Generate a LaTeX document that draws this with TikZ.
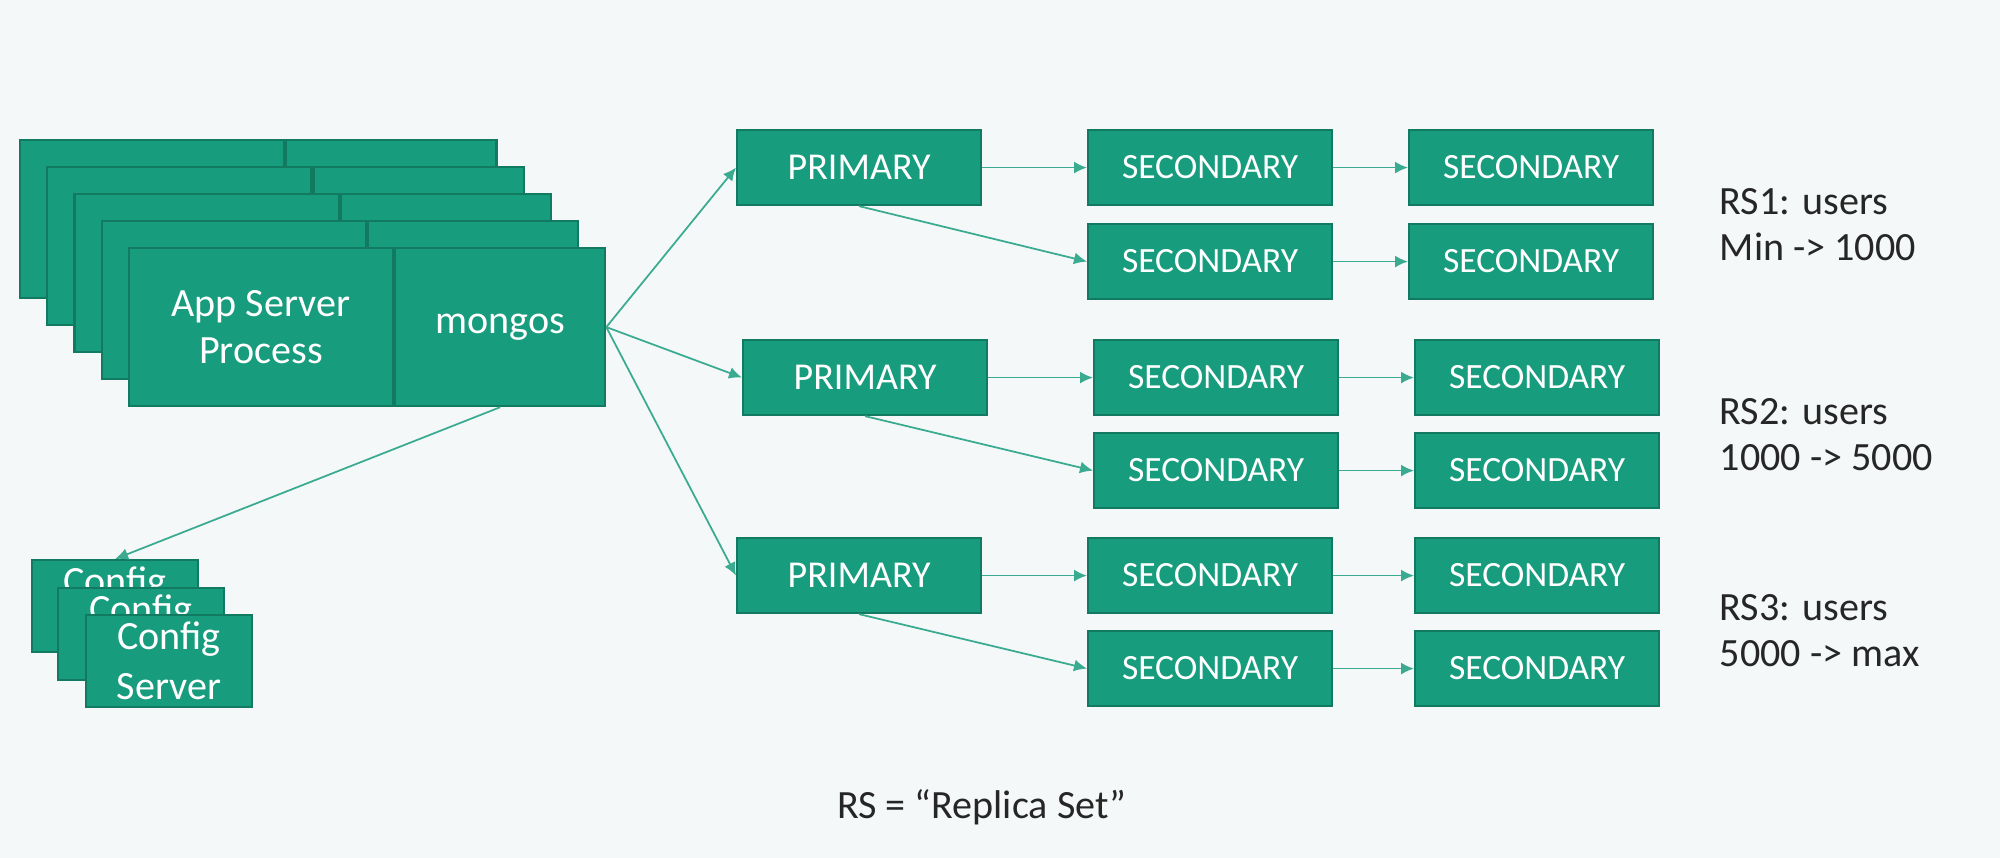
\documentclass[tikz,border=0pt]{standalone}
\usepackage{fontspec}
\setmainfont{Carlito}
\usetikzlibrary{arrows.meta,calc}
\definecolor{bg}{HTML}{F5F8F8}
\definecolor{tealfill}{HTML}{179C7D}
\definecolor{tealdk}{HTML}{137A62}
\definecolor{tealln}{HTML}{3AAB91}
\definecolor{txt}{HTML}{262626}
\tikzset{
  box/.style={draw=tealdk, fill=tealfill, line width=0.6pt, inner sep=0pt, anchor=north west, text=white, align=center},
  prim/.style={box, minimum width=2.44cm, minimum height=0.75cm, font=\fontsize{10.8}{13}\selectfont},
  sec/.style={box, minimum width=2.44cm, minimum height=0.75cm, font=\fontsize{10.1}{12}\selectfont},
  appl/.style={box, minimum width=2.64cm, minimum height=1.58cm, font=\fontsize{11.4}{13.4}\selectfont},
  appr/.style={box, minimum width=2.10cm, minimum height=1.58cm, font=\fontsize{11.4}{13.4}\selectfont},
  cfg/.style={box, minimum width=1.66cm, minimum height=0.92cm, font=\fontsize{11.4}{14.2}\selectfont},
  lbl/.style={text=txt, align=left, anchor=west, inner sep=0pt, font=\fontsize{11.4}{13.1}\selectfont},
  conn/.style={draw=tealln, line width=0.5pt, -{Latex[length=1.3mm,width=1.2mm]}}
}
\begin{document}
\begin{tikzpicture}[x=0.01cm,y=-0.01cm]
\fill[bg] (0,0) rectangle (2000,858);
\useasboundingbox (0,0) rectangle (2000,858);

% stacked app server boxes
\foreach \i in {0,1,2,3}{
  \node[appl] (appL\i) at ({19+27.2*\i},{139+27*\i}) {};
  \node[appr] (appR\i) at ($(appL\i.north east)$) {};
}
\node[appl] (appL4) at (127.8,247) {App Server\\Process};
\node[appr] (appR4) at (appL4.north east) {mongos};

% config servers (back ones show only the top of their text)
\node[cfg] (cfg1) at (31,559) {Config\\\phantom{Server}};
\node[cfg] (cfg2) at (57,587) {Config\\\phantom{Server}};
\node[cfg] (cfg3) at (85,614) {Config\\Server};

% replica set 1
\node[prim] (P1) at (736,129) {PRIMARY};
\node[sec] (S11) at (1087,129) {SECONDARY};
\node[sec] (S12) at (1408,129) {SECONDARY};
\node[sec] (S21) at (1087,223) {SECONDARY};
\node[sec] (S22) at (1408,223) {SECONDARY};
% replica set 2
\node[prim] (P2) at (742,339) {PRIMARY};
\node[sec] (S31) at (1093,339) {SECONDARY};
\node[sec] (S32) at (1414,339) {SECONDARY};
\node[sec] (S41) at (1093,432) {SECONDARY};
\node[sec] (S42) at (1414,432) {SECONDARY};
% replica set 3
\node[prim] (P3) at (736,537) {PRIMARY};
\node[sec] (S51) at (1087,537) {SECONDARY};
\node[sec] (S52) at (1414,537) {SECONDARY};
\node[sec] (S61) at (1087,630) {SECONDARY};
\node[sec] (S62) at (1414,630) {SECONDARY};

% labels
\node[lbl] (L1) at (1719,224.5) {RS1: users\\Min -> 1000};
\node[lbl] (L2) at (1719,435) {RS2: users\\1000 -> 5000};
\node[lbl] (L3) at (1719,630.5) {RS3: users\\5000 -> max};
\node[lbl, anchor=center] (L4) at (982,807) {RS = “Replica Set”};

% connectors
\draw[conn] (appR4.east) -- (P1.west);
\draw[conn] (appR4.east) -- (P2.west);
\draw[conn] (appR4.east) -- (P3.west);
\draw[conn] (appR4.south) -- (cfg1.north);

\draw[conn] (P1.east) -- (S11.west);
\draw[conn] (P1.south) -- (S21.west);
\draw[conn] (S11.east) -- (S12.west);
\draw[conn] (S21.east) -- (S22.west);

\draw[conn] (P2.east) -- (S31.west);
\draw[conn] (P2.south) -- (S41.west);
\draw[conn] (S31.east) -- (S32.west);
\draw[conn] (S41.east) -- (S42.west);

\draw[conn] (P3.east) -- (S51.west);
\draw[conn] (P3.south) -- (S61.west);
\draw[conn] (S51.east) -- (S52.west);
\draw[conn] (S61.east) -- (S62.west);
\end{tikzpicture}
\end{document}
